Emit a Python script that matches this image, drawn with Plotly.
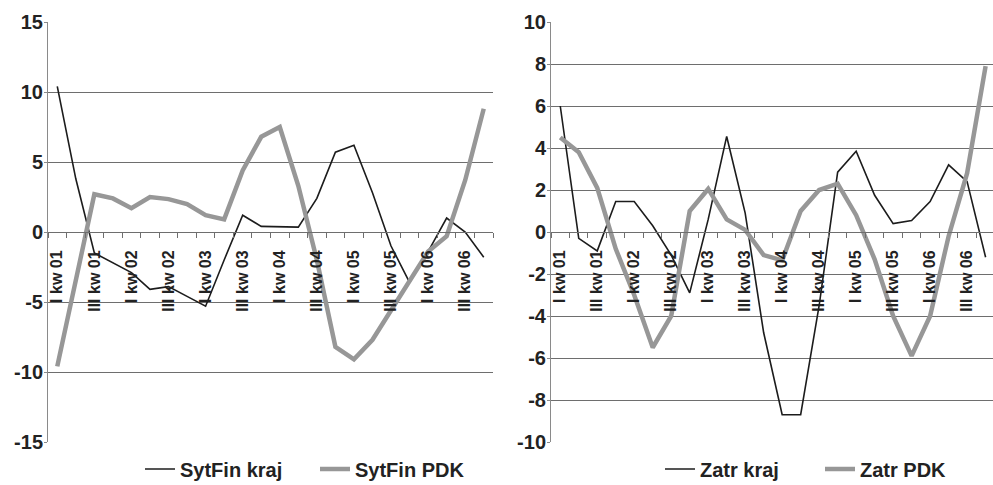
import plotly.graph_objects as go

quarters = [f"{q} kw {y}" for y in ["01", "02", "03", "04", "05", "06"] for q in ["I", "II", "III", "IV"]]
tick_labels = quarters[::2]

sytfin_kraj = [10.4, 3.8, -1.5, -2.2, -2.9, -4.1, -3.9, -4.6, -5.3, -2.0, 1.2, 0.4,
               0.4, 0.35, 2.4, 5.7, 6.2, 2.8, -1.0, -3.6, -1.4, 1.0, 0.0, -1.8]
sytfin_pdk = [-9.6, -3.4, 2.7, 2.4, 1.7, 2.5, 2.35, 2.0, 1.2, 0.9, 4.4, 6.8,
              7.5, 3.3, -2.0, -8.2, -9.1, -7.7, -5.6, -3.4, -1.4, -0.3, 3.7, 8.8]
zatr_kraj = [6.0, -0.3, -0.9, 1.45, 1.45, 0.3, -1.1, -2.9, 0.6, 4.55, 0.9, -4.8,
             -8.7, -8.7, -3.5, 2.85, 3.85, 1.75, 0.4, 0.55, 1.45, 3.2, 2.4, -1.2]
zatr_pdk = [4.5, 3.8, 2.1, -0.8, -3.0, -5.5, -4.0, 1.0, 2.05, 0.6, 0.1, -1.1,
            -1.35, 1.0, 2.0, 2.3, 0.8, -1.3, -4.0, -5.9, -4.0, -0.2, 2.8, 7.9]

left_yticks = [-15, -10, -5, 0, 5, 10, 15]
right_yticks = [-10, -8, -6, -4, -2, 0, 2, 4, 6, 8, 10]

idx = list(range(len(quarters)))
tick_pos = idx[::2]

FONT = "Liberation Sans, Arial, sans-serif"
TXT = "#222222"
GRID = "#6e6e6e"
BLACK = "#1c1c1c"
GRAY = "#979797"

fig = go.Figure()
fig.add_trace(go.Scatter(x=idx, y=sytfin_kraj, mode="lines", name="SytFin kraj",
                         line=dict(color=BLACK, width=1.6), xaxis="x", yaxis="y", legend="legend",
                         customdata=quarters))
fig.add_trace(go.Scatter(x=idx, y=sytfin_pdk, mode="lines", name="SytFin PDK",
                         line=dict(color=GRAY, width=4.5), xaxis="x", yaxis="y", legend="legend",
                         customdata=quarters))
fig.add_trace(go.Scatter(x=idx, y=zatr_kraj, mode="lines", name="Zatr kraj",
                         line=dict(color=BLACK, width=1.6), xaxis="x2", yaxis="y2", legend="legend2",
                         customdata=quarters))
fig.add_trace(go.Scatter(x=idx, y=zatr_pdk, mode="lines", name="Zatr PDK",
                         line=dict(color=GRAY, width=4.5), xaxis="x2", yaxis="y2", legend="legend2",
                         customdata=quarters))

W, H = 993, 485
ydom = [(H - 442) / H, (H - 22) / H]
xpos = ydom[0] + 0.5 * (ydom[1] - ydom[0])

def xaxis(domain, rng):
    return dict(domain=domain, range=rng, anchor="free", position=xpos, automargin=False,
                tickmode="array", tickvals=tick_pos, ticktext=tick_labels, tickangle=-90,
                ticks="", showgrid=False, zeroline=False, showline=True, linecolor=GRID, linewidth=1,
                tickfont=dict(family=FONT, size=16, color=TXT, weight="bold"), ticklabelstandoff=11,
                minor=dict(tickmode="linear", tick0=-0.5, dtick=1, ticks="outside", ticklen=5,
                           tickcolor=GRID, tickwidth=1, showgrid=False))

def yaxis(domain, rng, vals, xanchor):
    return dict(domain=domain, range=rng, anchor=xanchor, automargin=False,
                tickmode="array", tickvals=vals, ticktext=[str(v) for v in vals],
                showgrid=True, gridcolor=GRID, gridwidth=1.2, zeroline=False,
                showline=True, linecolor="#8a8a8a", linewidth=1,
                ticks="outside", ticklen=3, tickcolor="#8a8a8a", ticklabelstandoff=-3,
                tickfont=dict(family=FONT, size=20, color=TXT, weight="bold"))

legend_font = dict(family=FONT, size=20, color=TXT, weight="bold")

fig.update_layout(
    width=W, height=H,
    margin=dict(l=0, r=0, t=0, b=0, autoexpand=False),
    paper_bgcolor="white", plot_bgcolor="white",
    xaxis=xaxis([48 / W, 493 / W], [-0.5, 23.5]),
    yaxis=yaxis(ydom, [-15, 15], left_yticks, "x"),
    xaxis2=xaxis([551 / W, 1.0], [-0.5, 23.4]),
    yaxis2=yaxis(ydom, [-10, 10], right_yticks, "x2"),
    showlegend=True,
    legend=dict(orientation="h", x=140 / W, y=(H - 469) / H, xanchor="left", yanchor="middle",
                font=legend_font, bgcolor="rgba(0,0,0,0)", entrywidth=130, entrywidthmode="pixels"),
    legend2=dict(orientation="h", x=660 / W, y=(H - 469) / H, xanchor="left", yanchor="middle",
                 font=legend_font, bgcolor="rgba(0,0,0,0)", entrywidth=115, entrywidthmode="pixels"),
)

fig.write_html("out.html")
